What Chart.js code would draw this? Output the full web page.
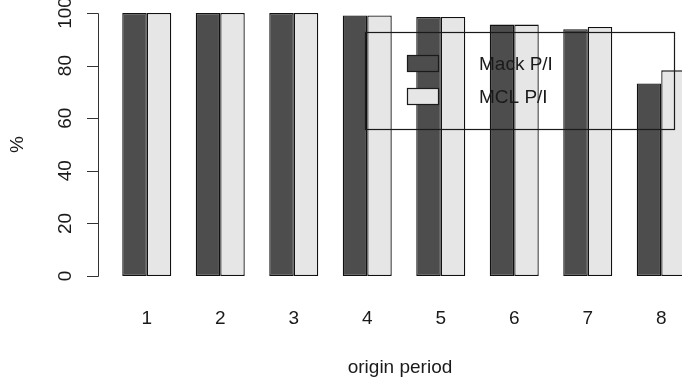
<!DOCTYPE html>
<html>
<head>
<meta charset="utf-8">
<script src="https://cdn.jsdelivr.net/npm/chart.js@4/dist/chart.umd.min.js"></script>
<style>
  html, body { margin: 0; padding: 0; background: #fff; overflow: hidden; }
  #wrap { position: relative; width: 682px; height: 385px; overflow: hidden; }
  #grafico { position: absolute; left: 0; top: 0; }
</style>
</head>
<body>
<div id="wrap"><canvas id="grafico" width="720" height="385"></canvas></div>
<script>
const periodos = ['1', '2', '3', '4', '5', '6', '7', '8'];
const mackPI = [100, 100, 100, 99.1, 98.5, 95.6, 93.8, 73.2];
const mclPI = [100, 100, 100, 99.1, 98.5, 95.6, 94.7, 78.2];
const yTicks = [0, 20, 40, 60, 80, 100];
const nomes = ['Mack P/I', 'MCL P/I'];
const cores = ['#4d4d4d', '#e6e6e6'];

const fonte = '19px "Liberation Sans", Arial, sans-serif';
const corTexto = '#1a1a1a';

// eixos e legenda no estilo do R
const eixosR = {
      id: 'eixosR',
      afterDraw(chart) {
            const c = chart.ctx;
            const x = chart.scales.x;
            const y = chart.scales.y;
            const ax = x.left - 12;
            c.save();
            c.strokeStyle = '#333';
            c.lineWidth = 1;
            c.beginPath();
            c.moveTo(ax + 0.5, Math.round(y.getPixelForValue(0)) + 0.5);
            c.lineTo(ax + 0.5, Math.round(y.getPixelForValue(100)) + 0.5);
            yTicks.forEach(v => {
                  const py = Math.round(y.getPixelForValue(v)) + 0.5;
                  c.moveTo(ax + 0.5, py);
                  c.lineTo(ax - 11, py);
            });
            c.stroke();

            c.fillStyle = corTexto;
            c.font = fonte;
            c.textAlign = 'center';
            c.textBaseline = 'middle';
            yTicks.forEach(v => {
                  c.save();
                  c.translate(ax - 32, y.getPixelForValue(v));
                  c.rotate(-Math.PI / 2);
                  c.fillText(String(v), 0, 0);
                  c.restore();
            });
            c.save();
            c.translate(18, (y.top + y.bottom) / 2);
            c.rotate(-Math.PI / 2);
            c.fillText('%', 0, 0);
            c.restore();

            periodos.forEach((p, i) => {
                  c.fillText(p, x.getPixelForValue(i), 319);
            });
            c.fillText('origin period', (x.left + x.right) / 2 - 4, 368);

            // legenda (sem fundo)
            c.strokeStyle = '#1a1a1a';
            c.lineWidth = 1.2;
            c.strokeRect(365.5, 32.5, 309, 97);
            const sy = [55.5, 88.5];
            nomes.forEach((n, i) => {
                  c.fillStyle = cores[i];
                  c.fillRect(407.5, sy[i], 31, 16);
                  c.strokeRect(407.5, sy[i], 31, 16);
                  c.fillStyle = corTexto;
                  c.textAlign = 'left';
                  c.fillText(n, 479, sy[i] + 9.5);
            });
            c.restore();
      }
};

const ctx = document.getElementById('grafico').getContext('2d');

const grafico = new Chart(ctx, {
      type: 'bar',
      data: {
            labels: periodos,
            datasets: [{
                  label: nomes[0],
                  data: mackPI,
                  backgroundColor: cores[0],
                  borderColor: '#111',
                  borderWidth: 1.3,
                  borderSkipped: false,
                  categoryPercentage: 2 / 3,
                  barPercentage: 1
            }, {
                  label: nomes[1],
                  data: mclPI,
                  backgroundColor: cores[1],
                  borderColor: '#111',
                  borderWidth: 1.3,
                  borderSkipped: false,
                  categoryPercentage: 2 / 3,
                  barPercentage: 1
            }]
      },
      options: {
            responsive: false,
            animation: false,
            layout: {
                  padding: { left: 110, right: 22, top: 2.5, bottom: 98.5 }
            },
            plugins: {
                  legend: { display: false },
                  tooltip: { enabled: false }
            },
            scales: {
                  x: { display: false },
                  y: { display: false, min: -4, max: 104 }
            }
      },
      plugins: [eixosR]
});
</script>
</body>
</html>
